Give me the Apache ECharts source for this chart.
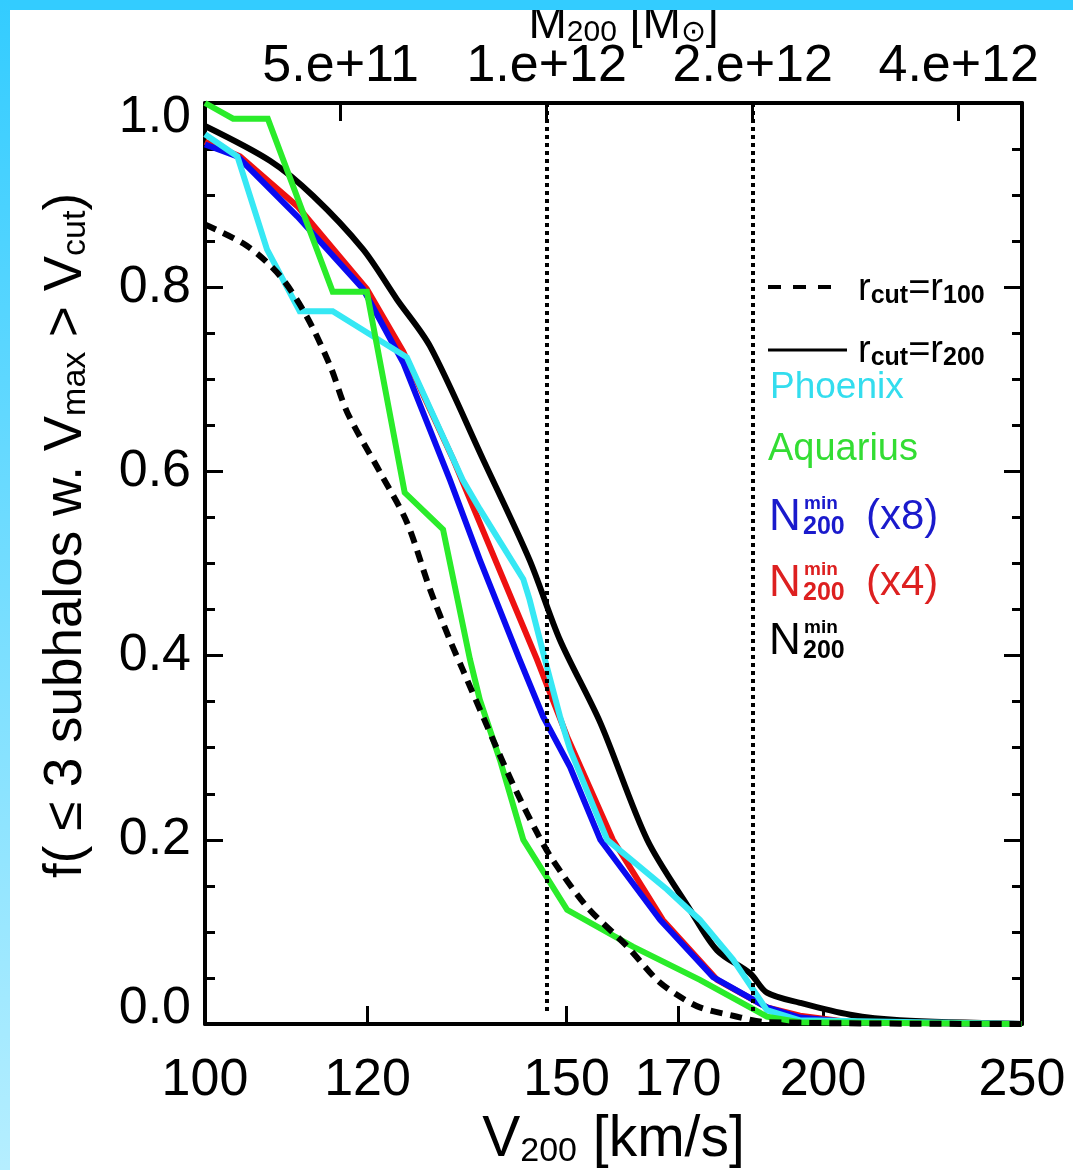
<!DOCTYPE html>
<html>
<head>
<meta charset="utf-8">
<script src="https://cdn.jsdelivr.net/npm/echarts@6/dist/echarts.min.js"></script>
<style>
  html, body { margin: 0; padding: 0; background: #ffffff; }
  #chart { width: 1073px; height: 1170px; }
</style>
</head>
<body>
<div id="chart"></div>
<script>
// ---- axis ticks ----
const vTicks = [100, 120, 150, 170, 200, 250];          // V200 [km/s], log axis
const massTicks = [5e11, 1e12, 2e12, 4e12];             // M200 [Msun], top axis
const massTickLabels = ['5.e+11', '1.e+12', '2.e+12', '4.e+12'];
const massMarks = [1e12, 2e12];                          // dotted reference halo masses
const V_AT_1E12 = 146.7;                                 // V200 of a 1e12 Msun halo

// ---- f(<=3 subhalos with Vmax > Vcut) vs V200 ----
// N200min, rcut = r200 (black solid)
const nminV = [100, 107.6, 112.9, 119.4, 124.0, 128.7, 136.6, 143.9, 148.9, 155.8, 164.2, 172.3, 177.6, 184.3, 187.8, 194.9, 206.2, 218.0, 250];
const nminF = [0.975, 0.937, 0.899, 0.841, 0.787, 0.736, 0.613, 0.504, 0.417, 0.327, 0.200, 0.124, 0.080, 0.055, 0.034, 0.023, 0.010, 0.004, 0];
// N200min x4 (red)
const nmin4V = [100, 104.0, 110.9, 119.9, 124.9, 132.1, 145.1, 150.1, 158.0, 167.1, 177.6, 187.8, 194.9, 206.2, 250];
const nmin4F = [0.958, 0.942, 0.888, 0.798, 0.730, 0.613, 0.396, 0.312, 0.200, 0.113, 0.048, 0.018, 0.009, 0.002, 0];
// N200min x8 (blue)
const nmin8V = [100, 103.7, 110.9, 119.4, 124.9, 131.6, 136.1, 142.3, 146.1, 150.6, 155.8, 166.6, 176.8, 187.8, 194.9, 206.2, 250];
const nmin8F = [0.955, 0.942, 0.877, 0.798, 0.718, 0.591, 0.504, 0.396, 0.334, 0.279, 0.200, 0.113, 0.051, 0.018, 0.007, 0.002, 0];
// Phoenix (cyan)
const phoenixV = [100, 103.7, 107.2, 111.2, 115.4, 125.4, 133.5, 136.1, 142.9, 143.9, 146.4, 148.9, 150.6, 157.0, 167.9, 174.2, 180.8, 187.8, 194.9, 250];
const phoenixF = [0.966, 0.942, 0.841, 0.774, 0.774, 0.724, 0.591, 0.559, 0.483, 0.461, 0.396, 0.334, 0.298, 0.200, 0.146, 0.113, 0.070, 0.015, 0.004, 0];
// Aquarius (green)
const aquariusV = [100, 103.2, 107.3, 115.4, 119.9, 125.1, 130.6, 134.6, 136.1, 139.2, 142.9, 150.1, 161.6, 174.2, 184.3, 187.8, 194.9, 250];
const aquariusF = [1.0, 0.983, 0.983, 0.795, 0.795, 0.577, 0.537, 0.396, 0.352, 0.287, 0.200, 0.124, 0.084, 0.048, 0.018, 0.008, 0.002, 0];
// N200min, rcut = r100 (black dashed)
const r100V = [100, 104.8, 108.8, 112.1, 115.1, 117.3, 121.7, 125.4, 128.7, 131.6, 133.5, 138.8, 141.9, 145.1, 147.7, 153.5, 160.6, 166.0, 169.7, 174.2, 180.8, 187.8, 250];
const r100F = [0.868, 0.845, 0.812, 0.768, 0.714, 0.664, 0.599, 0.545, 0.472, 0.417, 0.385, 0.298, 0.251, 0.208, 0.178, 0.127, 0.084, 0.048, 0.032, 0.018, 0.009, 0.002, 0];

const FONT = '"Liberation Sans", Arial, Helvetica, sans-serif';

function massToV(m) { return V_AT_1E12 * Math.cbrt(m / 1e12); }
function pairs(xs, ys) { return xs.map((x, i) => [x, ys[i]]); }

const massTickV = massTicks.map(massToV);
function massLabel(v) {
  let best = 0;
  massTickV.forEach((mv, i) => { if (Math.abs(mv - v) < Math.abs(massTickV[best] - v)) best = i; });
  return massTickLabels[best];
}

const tickLine = { color: '#000', width: 3 };
const subStyle = (size, lh) => ({ fontFamily: FONT, fontSize: size, lineHeight: lh, verticalAlign: 'bottom', color: '#000' });

function lineSeries(name, xs, ys, color, width, type, extra) {
  return Object.assign({
    name: name,
    type: 'line',
    data: pairs(xs, ys),
    showSymbol: false,
    symbol: 'none',
    clip: false,
    silent: true,
    lineStyle: { color: color, width: width, type: type || 'solid', cap: 'butt', join: 'miter' },
    emphasis: { disabled: true }
  }, extra || {});
}

const chart = echarts.init(document.getElementById('chart'), null, { renderer: 'canvas' });

const option = {
  animation: false,
  backgroundColor: '#ffffff',
  grid: { left: 205, right: 51, top: 103, bottom: 146, outerBoundsMode: 'none', containLabel: false },
  xAxis: [
    {
      type: 'log', logBase: 10, min: 100, max: 250, position: 'bottom',
      name: '{t|V}{s|200}{t| [km/s]}',
      nameLocation: 'middle', nameGap: 70,
      nameTextStyle: { fontFamily: FONT, fontSize: 57, color: '#000',
        rich: { t: { fontFamily: FONT, fontSize: 57, lineHeight: 57, color: '#000' }, s: subStyle(34, 12) } },
      axisLine: { show: true, onZero: false, lineStyle: { color: '#000', width: 4 } },
      axisTick: { show: true, inside: true, length: 18, lineStyle: tickLine, customValues: vTicks },
      minorTick: { show: false },
      splitLine: { show: false },
      axisLabel: { show: true, customValues: vTicks, margin: 31, fontFamily: FONT, fontSize: 52, color: '#000',
        formatter: v => String(Math.round(v)) }
    },
    {
      type: 'log', logBase: 10, min: 100, max: 250, position: 'top',
      name: '{t|M}{s|200}{t| [M}{s|\u2299}{t|]}',
      nameLocation: 'middle', nameGap: 55, nameMoveOverlap: false,
      nameTextStyle: { fontFamily: FONT, fontSize: 46, color: '#000', padding: [0, 0, 0, 20],
        rich: { t: { fontFamily: FONT, fontSize: 46, lineHeight: 46, color: '#000' }, s: subStyle(30, 10) } },
      axisLine: { show: true, onZero: false, lineStyle: { color: '#000', width: 4 } },
      axisTick: { show: true, inside: true, length: 18, lineStyle: tickLine, customValues: massTickV },
      minorTick: { show: false },
      splitLine: { show: false },
      axisLabel: { show: true, customValues: massTickV, margin: 10, fontFamily: FONT, fontSize: 52, color: '#000',
        formatter: v => massLabel(v) }
    }
  ],
  yAxis: [
    {
      type: 'value', min: 0, max: 1, interval: 0.2, position: 'left',
      name: '{t|f( \u2264 3 subhalos w. V}{s|max}{t| > V}{s|cut}{t|)}',
      nameLocation: 'middle', nameRotate: 90, nameGap: 112,
      nameTextStyle: { fontFamily: FONT, fontSize: 53, color: '#000', padding: [0, 0, 0, 56],
        rich: { t: { fontFamily: FONT, fontSize: 53, lineHeight: 53, color: '#000' }, s: subStyle(34, 12) } },
      axisLine: { show: true, onZero: false, lineStyle: { color: '#000', width: 4 } },
      axisTick: { show: true, inside: true, length: 18, lineStyle: tickLine },
      minorTick: { show: true, splitNumber: 4, length: 10, lineStyle: tickLine },
      splitLine: { show: false },
      axisLabel: { show: true, margin: 14, fontFamily: FONT, fontSize: 52, lineHeight: 30, color: '#000',
        formatter: v => v.toFixed(1),
        verticalAlignMinLabel: 'bottom', verticalAlignMaxLabel: 'top' }
    },
    {
      type: 'value', min: 0, max: 1, interval: 0.2, position: 'right',
      axisLine: { show: true, onZero: false, lineStyle: { color: '#000', width: 4 } },
      axisTick: { show: true, inside: true, length: 18, lineStyle: tickLine },
      minorTick: { show: true, splitNumber: 4, length: 10, lineStyle: tickLine },
      splitLine: { show: false },
      axisLabel: { show: false }
    }
  ],
  series: [
    lineSeries('N200min, rcut=r200', nminV, nminF, '#000000', 6, 'solid', {
      smooth: 0.3,
      markLine: {
        silent: true, symbol: ['none', 'none'], animation: false,
        label: { show: false },
        lineStyle: { color: '#000', width: 4, type: [4, 4] },
        data: massMarks.map(m => [{ coord: [massToV(m), 1] }, { coord: [massToV(m), 0.01] }])
      }
    }),
    lineSeries('N200min (x4)', nmin4V, nmin4F, '#ee1111', 6),
    lineSeries('N200min (x8)', nmin8V, nmin8F, '#0a0af0', 6),
    lineSeries('Phoenix', phoenixV, phoenixF, '#36e8f4', 6),
    lineSeries('Aquarius', aquariusV, aquariusF, '#2aec2a', 6),
    lineSeries('N200min, rcut=r100', r100V, r100F, '#000000', 6, [12, 8], { smooth: 0.3 })
  ],
  graphic: [
    // page frame
    { type: 'rect', z: 100, silent: true, shape: { x: 0, y: 0, width: 1073, height: 10 }, style: { fill: '#33ccff' } },
    { type: 'rect', z: 100, silent: true, shape: { x: 0, y: 0, width: 10, height: 1170 },
      style: { fill: new echarts.graphic.LinearGradient(0, 0, 0, 1, [
        { offset: 0, color: '#33ccff' }, { offset: 1, color: '#b5eeff' }]) } },
    // key
    { type: 'line', z: 50, silent: true, shape: { x1: 768, y1: 287, x2: 842, y2: 287 },
      style: { stroke: '#000', lineWidth: 4, lineDash: [13, 12] } },
    { type: 'text', z: 50, silent: true, x: 858, y: 290,
      style: { text: '{r|r}{s|cut}{r|=r}{s|100}', verticalAlign: 'middle', fill: '#000',
        rich: { r: { fontFamily: FONT, fontSize: 38, lineHeight: 38 }, s: { fontFamily: FONT, fontSize: 25, fontWeight: 'bold', lineHeight: 8, verticalAlign: 'bottom' } } } },
    { type: 'line', z: 50, silent: true, shape: { x1: 768, y1: 350, x2: 847, y2: 350 },
      style: { stroke: '#000', lineWidth: 3 } },
    { type: 'text', z: 50, silent: true, x: 858, y: 352,
      style: { text: '{r|r}{s|cut}{r|=r}{s|200}', verticalAlign: 'middle', fill: '#000',
        rich: { r: { fontFamily: FONT, fontSize: 38, lineHeight: 38 }, s: { fontFamily: FONT, fontSize: 25, fontWeight: 'bold', lineHeight: 8, verticalAlign: 'bottom' } } } },
    { type: 'text', z: 50, silent: true, x: 770, y: 388,
      style: { text: 'Phoenix', fill: '#33ddee', font: '37px ' + FONT, verticalAlign: 'middle' } },
    { type: 'text', z: 50, silent: true, x: 768, y: 450,
      style: { text: 'Aquarius', fill: '#33dd33', font: '38px ' + FONT, verticalAlign: 'middle' } },

    { type: 'text', z: 50, silent: true, x: 769, y: 518, style: { text: 'N', fill: '#1a1acc', font: '44px ' + FONT, verticalAlign: 'middle' } },
    { type: 'text', z: 50, silent: true, x: 804, y: 504, style: { text: 'min', fill: '#1a1acc', font: 'bold 19px ' + FONT, verticalAlign: 'middle' } },
    { type: 'text', z: 50, silent: true, x: 803, y: 527, style: { text: '200', fill: '#1a1acc', font: 'bold 25px ' + FONT, verticalAlign: 'middle' } },
    { type: 'text', z: 50, silent: true, x: 866, y: 517, style: { text: '(x8)', fill: '#1a1acc', font: '42px ' + FONT, verticalAlign: 'middle' } },

    { type: 'text', z: 50, silent: true, x: 769, y: 584, style: { text: 'N', fill: '#dd2020', font: '44px ' + FONT, verticalAlign: 'middle' } },
    { type: 'text', z: 50, silent: true, x: 804, y: 570, style: { text: 'min', fill: '#dd2020', font: 'bold 19px ' + FONT, verticalAlign: 'middle' } },
    { type: 'text', z: 50, silent: true, x: 803, y: 593, style: { text: '200', fill: '#dd2020', font: 'bold 25px ' + FONT, verticalAlign: 'middle' } },
    { type: 'text', z: 50, silent: true, x: 866, y: 583, style: { text: '(x4)', fill: '#dd2020', font: '42px ' + FONT, verticalAlign: 'middle' } },

    { type: 'text', z: 50, silent: true, x: 769, y: 642, style: { text: 'N', fill: '#000', font: '44px ' + FONT, verticalAlign: 'middle' } },
    { type: 'text', z: 50, silent: true, x: 804, y: 628, style: { text: 'min', fill: '#000', font: 'bold 19px ' + FONT, verticalAlign: 'middle' } },
    { type: 'text', z: 50, silent: true, x: 803, y: 651, style: { text: '200', fill: '#000', font: 'bold 25px ' + FONT, verticalAlign: 'middle' } }
  ]
};

chart.setOption(option);
</script>
</body>
</html>
